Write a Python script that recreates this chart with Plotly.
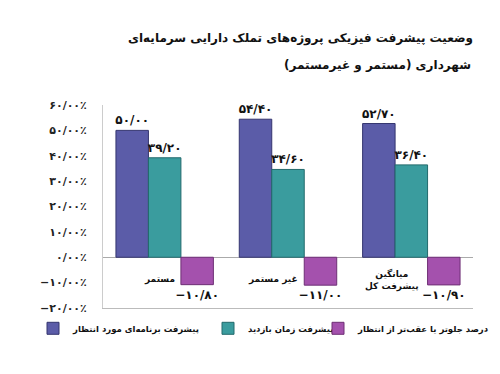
import plotly.graph_objects as go

categories = ["مستمر", "غیر مستمر", "میانگین<br>پیشرفت کل"]
series_names = ["پیشرفت برنامه‌ای مورد انتظار", "پیشرفت زمان بازدید", "درصد جلوتر یا عقب‌تر از انتظار"]
expected = [50.00, 54.40, 52.70]
visit = [39.20, 34.60, 36.40]
diff = [-10.80, -11.00, -10.90]
tick_vals = [-20, -10, 0, 10, 20, 30, 40, 50, 60]
title_lines = ["وضعیت پیشرفت فیزیکی پروژه‌های تملک دارایی سرمایه‌ای", "شهرداری (مستمر و غیرمستمر)"]

colors = ["#5b5ca8", "#3a9c9e", "#a451ad"]
lines = ["#34356f", "#226a6c", "#6e2f75"]
legend_ids = ["legend", "legend2", "legend3"]
legend_x = [0.05, 0.40, 0.62]

FA = str.maketrans("0123456789-", "۰۱۲۳۴۵۶۷۸۹−")


def fa(v, dec=2):
    return f"{v:.{dec}f}".replace(".", "/").translate(FA)


tick_text = [fa(v) + "٪" for v in tick_vals]
FONT = "DejaVu Sans"

fig = go.Figure()
for name, vals, c, lc, lg in zip(series_names, [expected, visit, diff], colors, lines, legend_ids):
    fig.add_trace(go.Bar(
        x=list(range(len(categories))), y=vals, name=name, legend=lg,
        marker=dict(color=c, line=dict(color=lc, width=1)),
        text=[fa(v) for v in vals], textposition="outside", constraintext="none",
        textfont=dict(family=FONT, size=12, color="#111111", weight="bold"),
        cliponaxis=False,
    ))

for i, cat in enumerate(categories):
    fig.add_annotation(x=i, y=-8.8, xref="x", yref="y", text="<b>" + cat + "</b>",
                       showarrow=False, xanchor="right", xshift=12 if i < 2 else 10,
                       align="center", font=dict(family=FONT, size=9, color="#111111"))

fig.add_annotation(x=1.0, y=(300 - 58) / 203, xref="paper", yref="paper",
                   text="<b>" + title_lines[1] + "</b>", showarrow=False,
                   xanchor="right", yanchor="middle",
                   font=dict(family=FONT, size=12, color="#111111"))

legend_common = dict(orientation="h", xref="container", xanchor="left",
                     yref="paper", y=-0.10, yanchor="middle",
                     font=dict(family=FONT, size=8.5, color="#111111", weight="bold"),
                     itemwidth=30, bgcolor="rgba(0,0,0,0)")

fig.update_layout(
    width=500, height=374,
    margin=dict(l=95, r=35, t=97, b=74, autoexpand=False),
    paper_bgcolor="white", plot_bgcolor="white",
    barmode="group", bargap=0.21, bargroupgap=0,
    title=dict(text="<b>" + title_lines[0] + "</b>",
               x=1.0, xanchor="right", y=(374 - 30) / 374, yanchor="middle", xref="paper",
               font=dict(family=FONT, size=12, color="#111111")),
    showlegend=True,
    legend=dict(x=legend_x[0], **legend_common),
    legend2=dict(x=legend_x[1], **legend_common),
    legend3=dict(x=legend_x[2], **legend_common),
    xaxis=dict(showticklabels=False, showgrid=False, zeroline=False, showline=True,
               linecolor="#bbbbbb", range=[-0.5, 2.5], ticks=""),
    yaxis=dict(range=[-20, 60], tickvals=tick_vals, ticktext=tick_text, showgrid=False,
               zeroline=True, zerolinecolor="#aaaaaa", zerolinewidth=1,
               showline=True, linecolor="#cccccc", ticklabelstandoff=13,
               tickfont=dict(family=FONT, size=11, color="#222222", weight="bold")),
)

fig.write_html("out.html")
